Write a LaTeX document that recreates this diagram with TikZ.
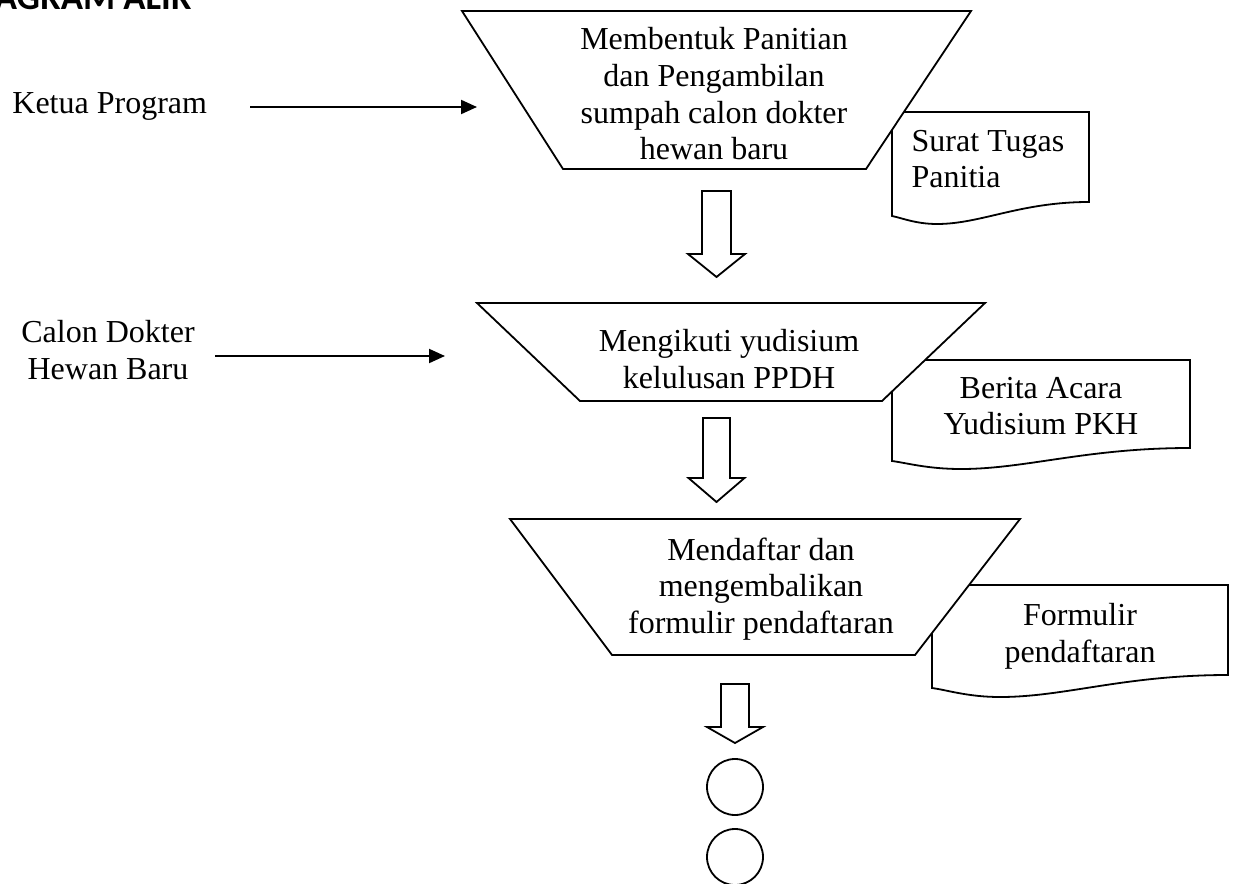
\documentclass[tikz,border=0pt]{standalone}
\usepackage{fontspec}
\setmainfont{Liberation Serif}
\newfontfamily\judulfont{Carlito}
\usetikzlibrary{arrows.meta}
\tikzset{
  flowtext/.style  = {align=center, inner sep=0pt,
                      font=\fontsize{16}{18.35}\selectfont},
  outline/.style   = {draw, line width=0.9pt, fill=white, line join=miter},
  flowarrow/.style = {line width=1pt, -{Triangle[length=8pt,width=7pt]}},
  connector/.style = {circle, draw, line width=0.9pt, minimum size=28pt, inner sep=0pt}
}

\begin{document}
\begin{tikzpicture}[x=0.5pt, y=-0.5pt]
 \useasboundingbox (0,0) rectangle (1236,883);
 \clip (0,0) rectangle (1236,883);

 % judul, terpotong di tepi atas
 \node[anchor=base east, inner sep=0pt,
       font={\judulfont\fontsize{18.35}{20}\selectfont\bfseries}] (judul) at (192,10) {DIAGRAM ALIR};

 % dokumen (di belakang proses)
 \draw[outline] (892,112) -- (1089,112) -- (1089,202)
   .. controls (1020,202) and (981,224) .. (937,224)
   .. controls (916,224) and (902,218) .. (892,216) -- cycle;
 \draw[outline] (892,360) -- (1190,360) -- (1190,448)
   .. controls (1086,448) and (1026,469) .. (961,469)
   .. controls (928,469) and (907,463) .. (892,461) -- cycle;
 \draw[outline] (932,585) -- (1228,585) -- (1228,675)
   .. controls (1124,675) and (1065,697) .. (1000,697)
   .. controls (968,697) and (947,690) .. (932,688) -- cycle;

 % proses manual
 \draw[outline] (462,11) -- (971,11) -- (866,169) -- (563,169) -- cycle;
 \draw[outline] (477,303) -- (985,303) -- (882,401) -- (580,401) -- cycle;
 \draw[outline] (510,519) -- (1020,519) -- (915,655) -- (612,655) -- cycle;

 \node[flowtext] (bentuk) at (714,94) {Membentuk Panitian\\dan Pengambilan\\sumpah calon dokter\\hewan baru};
 \node[flowtext] (yudisium) at (729,359) {Mengikuti yudisium\\kelulusan PPDH};
 \node[flowtext] (daftar) at (761,589) {Mendaftar dan\\mengembalikan\\formulir pendaftaran};

 \node[flowtext, align=left] (surat) at (988,159) {Surat Tugas\\Panitia};
 \node[flowtext] (berita) at (1041,406) {Berita Acara\\Yudisium PKH};
 \node[flowtext] (formulir) at (1080,636) {Formulir\\pendaftaran};

 % pelaku
 \node[flowtext, anchor=base west] (ketua) at (12,113) {Ketua Program};
 \node[flowtext] (calon) at (108,350) {Calon Dokter\\Hewan Baru};

 \coordinate (ketua-in) at (477,107);
 \coordinate (calon-in) at (445,356);
 \draw[flowarrow] (ketua.east |- ketua-in) ++(43,0) -- (ketua-in);
 \draw[flowarrow] (calon.east |- calon-in) ++(20,0) -- (calon-in);

 % panah blok
 \coordinate (turun1) at (716.5,191);
 \coordinate (turun2) at (716.5,418);
 \coordinate (turun3) at (735,684);
 \draw[outline] (turun1) ++(-14.5,0) -- ++(29,0) -- ++(0,63) -- ++(14,0)
   -- ++(-28.5,23) -- ++(-28.5,-23) -- ++(14,0) -- cycle;
 \draw[outline] (turun2) ++(-13.5,0) -- ++(27,0) -- ++(0,60) -- ++(14.5,0)
   -- ++(-28,24) -- ++(-28,-24) -- ++(14.5,0) -- cycle;
 \draw[outline] (turun3) ++(-14,0) -- ++(28,0) -- ++(0,43) -- ++(14,0)
   -- ++(-28,16) -- ++(-28,-16) -- ++(14,0) -- cycle;

 % penghubung
 \node[connector] (sambung1) at (735,787) {};
 \node[connector] (sambung2) at (735,857) {};
\end{tikzpicture}
\end{document}
